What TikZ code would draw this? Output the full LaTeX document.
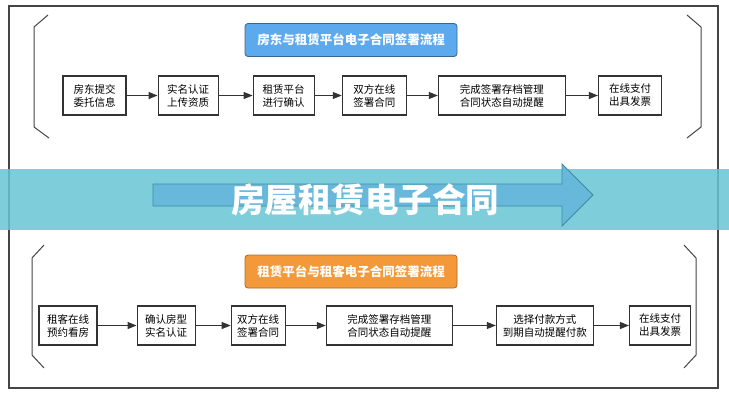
\documentclass[tikz,border=0pt]{standalone}
\usepackage{xcolor}
\usepackage{fontspec}
\setmainfont{Noto Sans CJK SC}
\usepackage{tikz}
\usetikzlibrary{positioning,arrows.meta}

\definecolor{framegray}{HTML}{454545}
\definecolor{boxgray}{HTML}{333333}
\definecolor{bandcyan}{RGB}{103,196,212}
\definecolor{arrowblue}{RGB}{104,184,220}
\definecolor{arrowedge}{RGB}{60,140,160}
\definecolor{titleblue}{HTML}{5DA9EE}
\definecolor{titleorange}{HTML}{F4993A}

\tikzset{
  stepbox/.style={draw=boxgray, line width=1.1pt, fill=white, minimum height=39pt,
    inner sep=2pt, align=center, font=\fontsize{10.5}{13}\selectfont},
  flow/.style={draw=boxgray, line width=1.1pt, -{Triangle[length=9pt,width=7pt]}},
  titlebox/.style={rounded corners=3pt, line width=0.8pt, minimum width=212pt,
    minimum height=33pt, text=white, font=\fontsize{12.5}{14}\selectfont\bfseries},
  bracket/.style={draw=framegray, line width=1pt},
}

\begin{document}
\begin{tikzpicture}[x=1pt, y=-1pt]
    \useasboundingbox (0,0) rectangle (729,400);
    \draw[framegray, line width=1.2pt] (9,6) rectangle (718,388);

    % landlord and platform
    \node[titlebox, fill=titleblue, draw=titleblue!60!black] (ltitle) at (351,40) {房东与租赁平台电子合同签署流程};
    \node[stepbox, minimum width=63pt] (l1) at (94.5,95.5) {房东提交\\委托信息};
    \node[stepbox, minimum width=60pt, right=31pt of l1] (l2) {实名认证\\上传资质};
    \node[stepbox, minimum width=61pt, right=34pt of l2] (l3) {租赁平台\\进行确认};
    \node[stepbox, minimum width=64pt, right=27pt of l3] (l4) {双方在线\\签署合同};
    \node[stepbox, minimum width=127pt, right=31pt of l4] (l5) {完成签署存档管理\\合同状态自动提醒};
    \node[stepbox, minimum width=63pt, right=32pt of l5] (l6) {在线支付\\出具发票};

    \draw[flow] (l1) -- (l2);
    \draw[flow] (l2) -- (l3);
    \draw[flow] (l3) -- (l4);
    \draw[flow] (l4) -- (l5);
    \draw[flow] (l5) -- (l6);

    \draw[bracket] (48,15) -- (34,27) -- (34,127) -- (49,138);
    \draw[bracket] (687,15) -- (701,27) -- (701,127) -- (687,138);

    % platform and tenant
    \node[titlebox, fill=titleorange, draw=titleorange!70!black] (ttitle) at (351,271.5) {租赁平台与租客电子合同签署流程};
    \node[stepbox, minimum width=58pt] (t1) at (68,325.5) {租客在线\\预约看房};
    \node[stepbox, minimum width=58pt, right=39pt of t1] (t2) {确认房型\\实名认证};
    \node[stepbox, minimum width=54pt, right=35pt of t2] (t3) {双方在线\\签署合同};
    \node[stepbox, minimum width=126pt, right=40pt of t3] (t4) {完成签署存档管理\\合同状态自动提醒};
    \node[stepbox, minimum width=97pt, right=43pt of t4] (t5) {选择付款方式\\到期自动提醒付款};
    \node[stepbox, minimum width=61pt, right=35pt of t5] (t6) {在线支付\\出具发票};

    \draw[flow] (t1) -- (t2);
    \draw[flow] (t2) -- (t3);
    \draw[flow] (t3) -- (t4);
    \draw[flow] (t4) -- (t5);
    \draw[flow] (t5) -- (t6);

    \draw[bracket] (44,245) -- (32,258) -- (32,355) -- (44,368);
    \draw[bracket] (684,245) -- (696,258) -- (696,355) -- (684,368);

    % banner across the middle
    \fill[bandcyan, fill opacity=0.85] (0,169) rectangle (729,230);
    \filldraw[fill=arrowblue, draw=arrowedge, line width=0.8pt]
      (153,184) -- (562,184) -- (562,164) -- (593,195) -- (562,226) -- (562,206) -- (153,206) -- cycle;
    \node[text=white, font=\fontsize{33.5}{35}\selectfont\bfseries] (banner) at (365,200) {房屋租赁电子合同};
\end{tikzpicture}
\end{document}
